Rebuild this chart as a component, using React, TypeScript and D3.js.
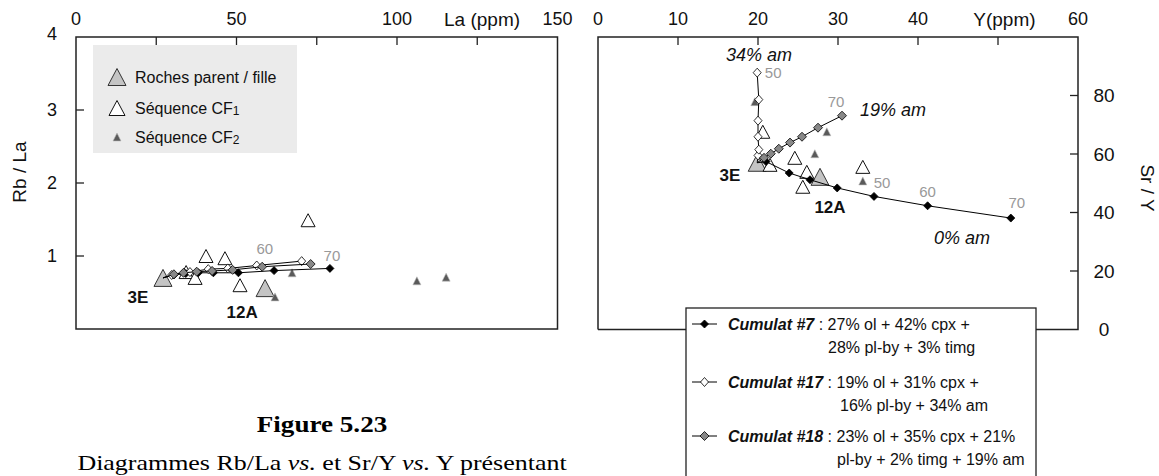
import React from 'react';
import * as d3 from 'd3';

// ---------- Left diagram : Rb/La vs La ----------
const laTicks = [0, 25, 50, 75, 100, 125, 150];
const laTickLabels = ['0', '', '50', '', '100', '', '150'];
const rbLaTicks = [1, 2, 3, 4];

const parentLa = [27.1, 58.9];
const parentRbLa = [0.70, 0.56];
const parentNames = ['3E', '12A'];

const cf1La = [34.3, 37.1, 40.5, 46.4, 51.1, 72.3];
const cf1RbLa = [0.78, 0.70, 1.00, 0.97, 0.60, 1.49];

const cf2La = [62.0, 67.3, 106.2, 115.3];
const cf2RbLa = [0.44, 0.77, 0.66, 0.71];

const c7La = [30.5, 34.2, 38.1, 42.8, 50.6, 61.7, 79.1];
const c7RbLa = [0.74, 0.76, 0.77, 0.77, 0.77, 0.80, 0.83];
const c17La = [29.8, 35.5, 41.2, 47.3, 56.3, 70.3];
const c17RbLa = [0.74, 0.78, 0.82, 0.83, 0.87, 0.93];
const c18La = [30.5, 33.5, 37.6, 42.4, 48.8, 58.0, 73.1];
const c18RbLa = [0.75, 0.77, 0.785, 0.795, 0.81, 0.853, 0.89];

// ---------- Right diagram : Sr/Y vs Y ----------
const yTicks = [0, 10, 20, 30, 40, 50, 60];
const yTickLabels = ['0', '10', '20', '30', '40', '', '60'];
const srYTicks = [0, 20, 40, 60, 80];

const parentY = [19.9, 27.75];
const parentSrY = [57.0, 52.2];

const cf1Y = [20.6, 24.6, 21.5, 26.1, 25.6, 33.1];
const cf1SrY = [67.6, 58.7, 56.3, 53.9, 48.8, 55.6];

const cf2Y = [19.6, 28.6, 27.1, 33.1];
const cf2SrY = [77.9, 67.6, 60.1, 50.8];

const c7Y = [21.0, 23.9, 26.5, 29.9, 34.5, 41.2, 51.6];
const c7SrY = [57.4, 53.5, 51.2, 48.4, 45.5, 42.3, 38.1];
const c17Y = [20.0, 20.1, 20.0, 20.0, 20.1, 19.9];
const c17SrY = [59.5, 61.5, 65.9, 71.4, 78.6, 87.8];
const c18Y = [20.75, 21.6, 22.6, 24.0, 25.5, 27.5, 30.5];
const c18SrY = [58.7, 60.1, 61.8, 63.9, 65.9, 69.0, 73.1];

const legendTri = ['Roches parent / fille', 'Séquence CF', 'Séquence CF'];
const legendSub = ['', '1', '2'];

const FONT = "'Liberation Sans', Arial, sans-serif";
const SERIF = "'Liberation Serif', 'Times New Roman', serif";

const tri = (w: number, h: number) => `M0,${-h / 2}L${w / 2},${h / 2}L${-w / 2},${h / 2}Z`;
const dia = (w: number, h: number) => `M0,${-h / 2}L${w / 2},0L0,${h / 2}L${-w / 2},0Z`;

const STYLE = {
  parent: { d: tri(18, 17), fill: '#c4c4c4', stroke: '#333', sw: 1 },
  cf1: { d: tri(14, 13), fill: '#fff', stroke: '#111', sw: 1 },
  cf2: { d: tri(8, 8), fill: '#5a5a5a', stroke: '#bbb', sw: 0.6 },
  c7: { d: dia(8, 8), fill: '#000', stroke: '#000', sw: 0.8 },
  c17: { d: dia(8, 9), fill: '#fff', stroke: '#000', sw: 0.8 },
  c18: { d: dia(9, 9), fill: '#888', stroke: '#000', sw: 0.8 },
};

function Marks({ xs, ys, sx, sy, st }: any) {
  return (
    <g>
      {xs.map((v: number, i: number) => (
        <path key={i} d={st.d} transform={`translate(${sx(v)},${sy(ys[i])})`} fill={st.fill} stroke={st.stroke} strokeWidth={st.sw} />
      ))}
    </g>
  );
}

function ModelLine({ x0, y0, xs, ys, sx, sy, st }: any) {
  const pts: [number, number][] = [[x0, y0], ...xs.map((v: number, i: number) => [v, ys[i]] as [number, number])];
  const line = d3.line<[number, number]>().x((d) => sx(d[0])).y((d) => sy(d[1]));
  return (
    <g>
      <path d={line(pts) || ''} fill="none" stroke="#000" strokeWidth={1} />
      <Marks xs={xs} ys={ys} sx={sx} sy={sy} st={st} />
    </g>
  );
}

export default function App() {
  const xL = d3.scaleLinear().domain([0, 150]).range([76, 557.5]);
  const yL = d3.scaleLinear().domain([0, 4]).range([329, 37]);
  const xR = d3.scaleLinear().domain([0, 60]).range([598, 1078]);
  const yR = d3.scaleLinear().domain([0, 100]).range([329.5, 37]);

  const frame = '#222';
  return (
    <svg width={1159} height={476} style={{ position: 'absolute', left: 0, top: 0, background: '#fff' }} fontFamily={FONT}>
      <rect x={0} y={0} width={1159} height={476} fill="#fff" />

      {/* ===== LEFT PLOT ===== */}
      <rect x={xL(0)} y={yL(4)} width={xL(150) - xL(0)} height={yL(0) - yL(4)} fill="none" stroke={frame} strokeWidth={1.5} />
      {laTicks.map((t, i) => (
        <g key={i}>
          {t > 0 && t < 150 && <line x1={xL(t)} x2={xL(t)} y1={yL(4)} y2={yL(4) + 8} stroke={frame} strokeWidth={1.3} />}
          {laTickLabels[i] && (
            <text x={xL(t)} y={19} fontSize={18} textAnchor="middle" dominantBaseline="central" fill="#111">{laTickLabels[i]}</text>
          )}
        </g>
      ))}
      <text x={xL(126.5)} y={19} fontSize={19} textAnchor="middle" dominantBaseline="central" fill="#111">La (ppm)</text>
      {rbLaTicks.map((t) => (
        <g key={t}>
          {t < 4 && <line x1={xL(0)} x2={xL(0) + 8} y1={yL(t)} y2={yL(t)} stroke={frame} strokeWidth={1.3} />}
          <text x={57} y={yL(t) - (t === 4 ? 3 : 0)} fontSize={18} textAnchor="end" dominantBaseline="central" fill="#111">{t}</text>
        </g>
      ))}
      <text transform={`translate(19,${172}) rotate(-90)`} fontSize={19} textAnchor="middle" dominantBaseline="central" fill="#111">Rb / La</text>

      {/* legend box (left) */}
      <rect x={93} y={45} width={204} height={108} fill="#ebebeb" />
      {legendTri.map((txt, i) => {
        const st = i === 0 ? STYLE.parent : i === 1 ? { ...STYLE.cf1, d: tri(16, 15) } : STYLE.cf2;
        const yy = [77, 108, 137][i];
        return (
          <g key={i}>
            <path d={st.d} transform={`translate(117,${yy})`} fill={st.fill} stroke={st.stroke} strokeWidth={st.sw} />
            <text x={135} y={yy} fontSize={16} dominantBaseline="central" fill="#111">
              {txt}
              {legendSub[i] && <tspan fontSize={12} dy={3}>{legendSub[i]}</tspan>}
            </text>
          </g>
        );
      })}

      {/* data left */}
      <Marks xs={parentLa} ys={parentRbLa} sx={xL} sy={yL} st={STYLE.parent} />
      <Marks xs={cf1La} ys={cf1RbLa} sx={xL} sy={yL} st={STYLE.cf1} />
      <Marks xs={cf2La} ys={cf2RbLa} sx={xL} sy={yL} st={STYLE.cf2} />
      <ModelLine x0={parentLa[0]} y0={parentRbLa[0]} xs={c7La} ys={c7RbLa} sx={xL} sy={yL} st={STYLE.c7} />
      <ModelLine x0={parentLa[0]} y0={parentRbLa[0]} xs={c17La} ys={c17RbLa} sx={xL} sy={yL} st={STYLE.c17} />
      <ModelLine x0={parentLa[0]} y0={parentRbLa[0]} xs={c18La} ys={c18RbLa} sx={xL} sy={yL} st={STYLE.c18} />
      <text x={xL(c17La[4]) + 8} y={yL(c17RbLa[4]) - 17} fontSize={15} textAnchor="middle" dominantBaseline="central" fill="#999">60</text>
      <text x={xL(c7La[6]) + 2} y={yL(c7RbLa[6]) - 13} fontSize={15} textAnchor="middle" dominantBaseline="central" fill="#999">70</text>
      <text x={xL(parentLa[0]) - 25} y={yL(parentRbLa[0]) + 20} fontSize={17} fontWeight="bold" textAnchor="middle" dominantBaseline="central" fill="#111">{parentNames[0]}</text>
      <text x={xL(parentLa[1]) - 23} y={yL(parentRbLa[1]) + 24} fontSize={17} fontWeight="bold" textAnchor="middle" dominantBaseline="central" fill="#111">{parentNames[1]}</text>

      {/* ===== RIGHT PLOT ===== */}
      <path d={`M${xR(0)},${yR(0)}V${yR(100)}H${xR(60)}V${yR(0)}H${xR(0)}`} fill="none" stroke={frame} strokeWidth={1.5} />
      {yTicks.map((t, i) => (
        <g key={i}>
          {t > 0 && t < 60 && <line x1={xR(t)} x2={xR(t)} y1={yR(100)} y2={yR(100) + 8} stroke={frame} strokeWidth={1.3} />}
          {yTickLabels[i] && (
            <text x={xR(t)} y={19} fontSize={18} textAnchor="middle" dominantBaseline="central" fill="#111">{yTickLabels[i]}</text>
          )}
        </g>
      ))}
      <text x={xR(50.8)} y={19} fontSize={19} textAnchor="middle" dominantBaseline="central" fill="#111">Y(ppm)</text>
      {srYTicks.map((t) => (
        <g key={t}>
          {t > 0 && <line x1={xR(60) - 8} x2={xR(60)} y1={yR(t)} y2={yR(t)} stroke={frame} strokeWidth={1.3} />}
          <text x={1104} y={yR(t)} fontSize={19} textAnchor="middle" dominantBaseline="central" fill="#111">{t}</text>
        </g>
      ))}
      <text transform={`translate(1147,188) rotate(90)`} fontSize={19} textAnchor="middle" dominantBaseline="central" fill="#111">Sr / Y</text>

      <Marks xs={parentY} ys={parentSrY} sx={xR} sy={yR} st={STYLE.parent} />
      <Marks xs={cf1Y} ys={cf1SrY} sx={xR} sy={yR} st={STYLE.cf1} />
      <Marks xs={cf2Y} ys={cf2SrY} sx={xR} sy={yR} st={STYLE.cf2} />
      <ModelLine x0={parentY[0]} y0={parentSrY[0]} xs={c7Y} ys={c7SrY} sx={xR} sy={yR} st={STYLE.c7} />
      <ModelLine x0={parentY[0]} y0={parentSrY[0]} xs={c17Y} ys={c17SrY} sx={xR} sy={yR} st={STYLE.c17} />
      <ModelLine x0={parentY[0]} y0={parentSrY[0]} xs={c18Y} ys={c18SrY} sx={xR} sy={yR} st={STYLE.c18} />

      <text x={xR(c17Y[5]) + 16} y={yR(c17SrY[5])} fontSize={15} textAnchor="middle" dominantBaseline="central" fill="#999">50</text>
      <text x={xR(c18Y[6]) - 6} y={yR(c18SrY[6]) - 14} fontSize={15} textAnchor="middle" dominantBaseline="central" fill="#999">70</text>
      <text x={xR(c7Y[4]) + 8} y={yR(c7SrY[4]) - 14} fontSize={15} textAnchor="middle" dominantBaseline="central" fill="#999">50</text>
      <text x={xR(c7Y[5])} y={yR(c7SrY[5]) - 14} fontSize={15} textAnchor="middle" dominantBaseline="central" fill="#999">60</text>
      <text x={xR(c7Y[6]) + 6} y={yR(c7SrY[6]) - 16} fontSize={15} textAnchor="middle" dominantBaseline="central" fill="#999">70</text>
      <text x={759} y={55} fontSize={18} fontStyle="italic" textAnchor="middle" dominantBaseline="central" fill="#111">34% am</text>
      <text x={893} y={110} fontSize={18} fontStyle="italic" textAnchor="middle" dominantBaseline="central" fill="#111">19% am</text>
      <text x={962} y={238} fontSize={18} fontStyle="italic" textAnchor="middle" dominantBaseline="central" fill="#111">0% am</text>
      <text x={730} y={175} fontSize={17} fontWeight="bold" textAnchor="middle" dominantBaseline="central" fill="#111">{parentNames[0]}</text>
      <text x={830} y={207} fontSize={17} fontWeight="bold" textAnchor="middle" dominantBaseline="central" fill="#111">{parentNames[1]}</text>

      {/* legend box (right) */}
      <rect x={686} y={308} width={350} height={200} fill="#fff" stroke={frame} strokeWidth={1.3} />
      {[
        { st: STYLE.c7, y: 324, name: 'Cumulat #7', l1: ' : 27% ol + 42% cpx +', l2: '28% pl-by + 3% timg', x2: 828 },
        { st: STYLE.c17, y: 382, name: 'Cumulat #17', l1: ' : 19% ol + 31% cpx +', l2: '16% pl-by + 34% am', x2: 840 },
        { st: STYLE.c18, y: 436, name: 'Cumulat #18', l1: ' : 23% ol + 35% cpx + 21%', l2: 'pl-by + 2% timg + 19% am', x2: 837 },
      ].map((e, i) => (
        <g key={i}>
          <line x1={692} x2={717} y1={e.y} y2={e.y} stroke="#000" strokeWidth={1} />
          <path d={e.st.d} transform={`translate(704.5,${e.y})`} fill={e.st.fill} stroke={e.st.stroke} strokeWidth={e.st.sw} />
          <text x={728} y={e.y} fontSize={16} dominantBaseline="central" fill="#111">
            <tspan fontWeight="bold" fontStyle="italic">{e.name}</tspan>
            <tspan>{e.l1}</tspan>
          </text>
          <text x={e.x2} y={e.y + 23} fontSize={16} dominantBaseline="central" fill="#111">{e.l2}</text>
        </g>
      ))}

      {/* caption */}
      <g transform="translate(322,432) scale(1.13,1)">
        <text x={0} y={0} fontFamily={SERIF} fontSize={24} fontWeight="bold" textAnchor="middle" fill="#000">Figure 5.23</text>
      </g>
      <g transform="translate(322,470) scale(1.18,1)">
        <text x={0} y={0} fontFamily={SERIF} fontSize={22} textAnchor="middle" fill="#000">
          Diagrammes Rb/La <tspan fontStyle="italic">vs.</tspan> et Sr/Y <tspan fontStyle="italic">vs.</tspan> Y présentant
        </text>
      </g>
    </svg>
  );
}
